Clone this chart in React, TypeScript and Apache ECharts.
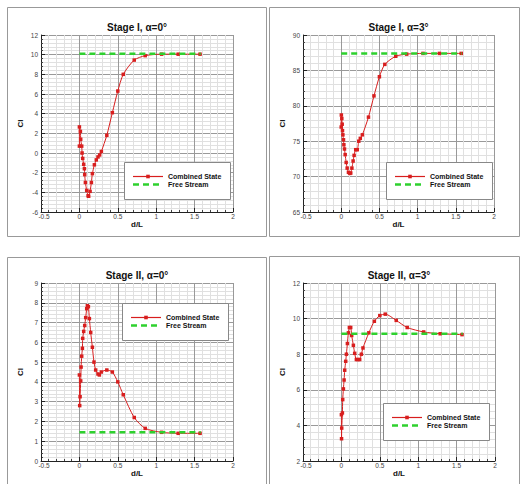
import React, { useEffect, useRef } from "react";
import * as echarts from "echarts";

const TITLES = ["Stage I, α=0°", "Stage I, α=3°", "Stage II, α=0°", "Stage II, α=3°"];
const SERIES_NAMES = ["Combined State", "Free Stream"];
const X_TICKS = { min: -0.5, max: 2, interval: 0.5 };
const Y_RANGES = [
  { min: -6, max: 12, interval: 2 },
  { min: 65, max: 90, interval: 5 },
  { min: 0, max: 9, interval: 1 },
  { min: 2, max: 12, interval: 2 },
];

// Stage I, alpha = 0
const s1a0X = [0, 0.0, 0.013, 0.017, 0.03, 0.035, 0.043, 0.056, 0.065, 0.069, 0.078, 0.095, 0.113, 0.121, 0.139, 0.156, 0.169, 0.195, 0.22, 0.242, 0.264, 0.286, 0.357, 0.429, 0.5, 0.571, 0.714, 0.857, 1.071, 1.286, 1.571];
const s1a0Y = [0.7, 2.65, 2.2, 1.4, 0.7, 0.0, -0.55, -1.15, -1.6, -2.2, -3.0, -3.8, -4.35, -4.4, -3.9, -3.0, -2.1, -1.2, -0.7, -0.4, -0.2, 0.15, 1.8, 4.1, 6.3, 8.0, 9.45, 9.9, 10.05, 10.05, 10.05];
// Stage I, alpha = 3
const s1a3X = [0, 0.002, 0.008, 0.013, 0.017, 0.022, 0.03, 0.035, 0.043, 0.052, 0.065, 0.078, 0.095, 0.113, 0.125, 0.14, 0.156, 0.169, 0.19, 0.21, 0.23, 0.25, 0.277, 0.357, 0.429, 0.5, 0.571, 0.714, 0.857, 1.071, 1.286, 1.571];
const s1a3Y = [77.0, 78.7, 78.2, 77.4, 76.5, 75.9, 75.2, 74.5, 73.9, 73.1, 72.0, 71.2, 70.6, 70.45, 70.5, 71.2, 72.2, 73.0, 73.8, 73.8, 75.0, 75.4, 75.9, 78.4, 81.4, 84.1, 85.85, 87.0, 87.3, 87.4, 87.4, 87.4];
// Stage II, alpha = 0
const s2a0X = [0, 0.004, 0.009, 0.017, 0.022, 0.03, 0.039, 0.043, 0.056, 0.069, 0.082, 0.095, 0.104, 0.117, 0.13, 0.147, 0.169, 0.19, 0.212, 0.242, 0.26, 0.286, 0.357, 0.429, 0.5, 0.571, 0.714, 0.857, 1.071, 1.286, 1.571];
const s2a0Y = [4.35, 2.8, 3.25, 4.05, 4.75, 5.3, 5.7, 6.2, 6.55, 6.85, 7.25, 7.7, 7.85, 7.8, 7.2, 6.5, 5.75, 5.0, 4.6, 4.4, 4.35, 4.5, 4.6, 4.5, 4.0, 3.35, 2.2, 1.65, 1.45, 1.4, 1.4];
// Stage II, alpha = 3
const s2a3X = [0, 0.002, 0.004, 0.013, 0.017, 0.026, 0.035, 0.043, 0.056, 0.065, 0.078, 0.091, 0.104, 0.121, 0.134, 0.156, 0.173, 0.195, 0.216, 0.238, 0.26, 0.281, 0.357, 0.429, 0.5, 0.571, 0.714, 0.857, 1.071, 1.286, 1.571];
const s2a3Y = [4.6, 3.25, 3.85, 4.7, 5.45, 6.05, 6.55, 7.1, 7.6, 8.0, 8.6, 9.2, 9.5, 9.5, 9.05, 8.5, 8.05, 7.7, 7.7, 7.7, 8.0, 8.35, 9.2, 9.85, 10.17, 10.25, 9.9, 9.5, 9.25, 9.15, 9.1];

const COMBINED_X = [s1a0X, s1a3X, s2a0X, s2a3X];
const COMBINED_Y = [s1a0Y, s1a3Y, s2a0Y, s2a3Y];
const FREE_STREAM = [10.1, 87.4, 1.45, 9.15];
const FREE_STREAM_X = [0, 1.58];

const FONT = "'Liberation Sans', Arial, Helvetica, sans-serif";
const RED = "#d81e1e";
const GREEN = "#2ed12e";

const GRIDS = [
  { left: 41, top: 35, width: 192, height: 177 },
  { left: 303, top: 35, width: 191, height: 177 },
  { left: 41, top: 283, width: 192, height: 178 },
  { left: 303, top: 283, width: 192, height: 178 },
];
const BOXES = [
  { x: 7.5, y: 7.5, width: 259, height: 229 },
  { x: 269.5, y: 7.5, width: 250, height: 229 },
  { x: 7.5, y: 257.5, width: 259, height: 240 },
  { x: 269.5, y: 256.5, width: 250, height: 240 },
];
const LEGEND_POS = [
  { x: 124, y: 162 },
  { x: 386, y: 162 },
  { x: 122, y: 303 },
  { x: 383, y: 403 },
];

export default function App() {
  const ref = useRef<HTMLDivElement>(null);
  useEffect(() => {
    if (!ref.current) return;
    const chart = echarts.init(ref.current, undefined, { renderer: "svg" });

    const axisCommon = {
      nameLocation: "middle",
      nameTextStyle: { fontFamily: FONT, fontSize: 8, fontWeight: "bold", color: "#111" },
      axisLine: { show: true, onZero: false, lineStyle: { color: "#222", width: 1 } },
      axisTick: { show: true, inside: true, length: 4, lineStyle: { color: "#222" } },
      minorTick: { show: true, splitNumber: 5, length: 2, lineStyle: { color: "#444" } },
      splitLine: { show: true, lineStyle: { color: "#999", width: 1 } },
      minorSplitLine: { show: true, lineStyle: { color: "#e0e0e0", width: 1 } },
    };

    const xAxes = GRIDS.map((_, i) => ({
      ...axisCommon,
      type: "value",
      gridIndex: i,
      min: X_TICKS.min,
      max: X_TICKS.max,
      interval: X_TICKS.interval,
      name: "d/L",
      nameGap: 5,
      axisLabel: {
        fontFamily: FONT,
        fontSize: 6.5,
        color: "#444",
        margin: 1,
        formatter: (v: number) => (v === X_TICKS.min ? "{s|" + v + "}" : String(v)),
        rich: { s: { fontFamily: FONT, fontSize: 6.5, color: "#444", padding: [0, 0, 0, 6] } },
      },
    }));
    const yAxes = GRIDS.map((_, i) => ({
      ...axisCommon,
      type: "value",
      gridIndex: i,
      min: Y_RANGES[i].min,
      max: Y_RANGES[i].max,
      interval: Y_RANGES[i].interval,
      name: "Cl",
      nameGap: 17,
      nameRotate: 90,
      axisLabel: { fontFamily: FONT, fontSize: 6.5, color: "#444", margin: 3 },
    }));

    const series: any[] = [];
    GRIDS.forEach((_, i) => {
      series.push({
        type: "line",
        name: SERIES_NAMES[0],
        xAxisIndex: i,
        yAxisIndex: i,
        data: COMBINED_X[i].map((x, k) => [x, COMBINED_Y[i][k]]),
        smooth: 0.25,
        symbol: "rect",
        symbolSize: 3.5,
        showAllSymbol: true,
        lineStyle: { color: RED, width: 1 },
        itemStyle: { color: RED },
        z: 2,
      });
      series.push({
        type: "line",
        name: SERIES_NAMES[1],
        xAxisIndex: i,
        yAxisIndex: i,
        data: FREE_STREAM_X.map((x) => [x, FREE_STREAM[i]]),
        symbol: "none",
        lineStyle: { color: GREEN, width: 2.5, type: [6, 4] },
        itemStyle: { color: GREEN },
        z: 3,
      });
    });

    const graphics: any[] = [];
    BOXES.forEach((b) => {
      graphics.push({
        type: "rect",
        shape: b,
        style: { fill: "none", stroke: "#999", lineWidth: 1 },
        z: -10,
        silent: true,
      });
    });
    GRIDS.forEach((g, i) => {
      graphics.push({
        type: "text",
        x: g.left + g.width / 2,
        y: g.top - 8,
        z: 100,
        style: {
          text: TITLES[i],
          fontFamily: FONT,
          fontSize: 10,
          fontWeight: "bold",
          fill: "#111",
          textAlign: "center",
          textVerticalAlign: "middle",
        },
      });
    });
    const textStyle = (text: string) => ({
      text,
      fontFamily: FONT,
      fontSize: 7,
      fontWeight: "bold",
      fill: "#111",
      textAlign: "left",
      textVerticalAlign: "middle",
    });
    LEGEND_POS.forEach((p) => {
      const r1 = 14.5;
      const r2 = 22.5;
      graphics.push({
        type: "group",
        x: p.x,
        y: p.y,
        z: 100,
        children: [
          {
            type: "rect",
            z: 100,
            shape: { x: 0.5, y: 0.5, width: 106, height: 37 },
            style: { fill: "#fff", stroke: "#888", lineWidth: 1 },
          },
          {
            type: "line",
            z: 101,
            shape: { x1: 9, y1: r1, x2: 39, y2: r1 },
            style: { stroke: RED, lineWidth: 1.2 },
          },
          {
            type: "rect",
            z: 102,
            shape: { x: 22.2, y: r1 - 1.8, width: 3.6, height: 3.6 },
            style: { fill: RED },
          },
          {
            type: "line",
            z: 101,
            shape: { x1: 9, y1: r2, x2: 39, y2: r2 },
            style: { stroke: GREEN, lineWidth: 2.5, lineDash: [6, 4] },
          },
          { type: "text", z: 101, x: 44, y: r1, style: textStyle(SERIES_NAMES[0]) },
          { type: "text", z: 101, x: 44, y: r2, style: textStyle(SERIES_NAMES[1]) },
        ],
      });
    });

    chart.setOption({
      animation: false,
      backgroundColor: "#fff",
      grid: GRIDS.map((g) => ({ ...g, containLabel: false })),
      xAxis: xAxes,
      yAxis: yAxes,
      series,
      graphic: graphics,
    });
    return () => chart.dispose();
  }, []);
  return (
    <div
      ref={ref}
      style={{ position: "absolute", left: 0, top: 0, width: 521, height: 484 }}
    />
  );
}
